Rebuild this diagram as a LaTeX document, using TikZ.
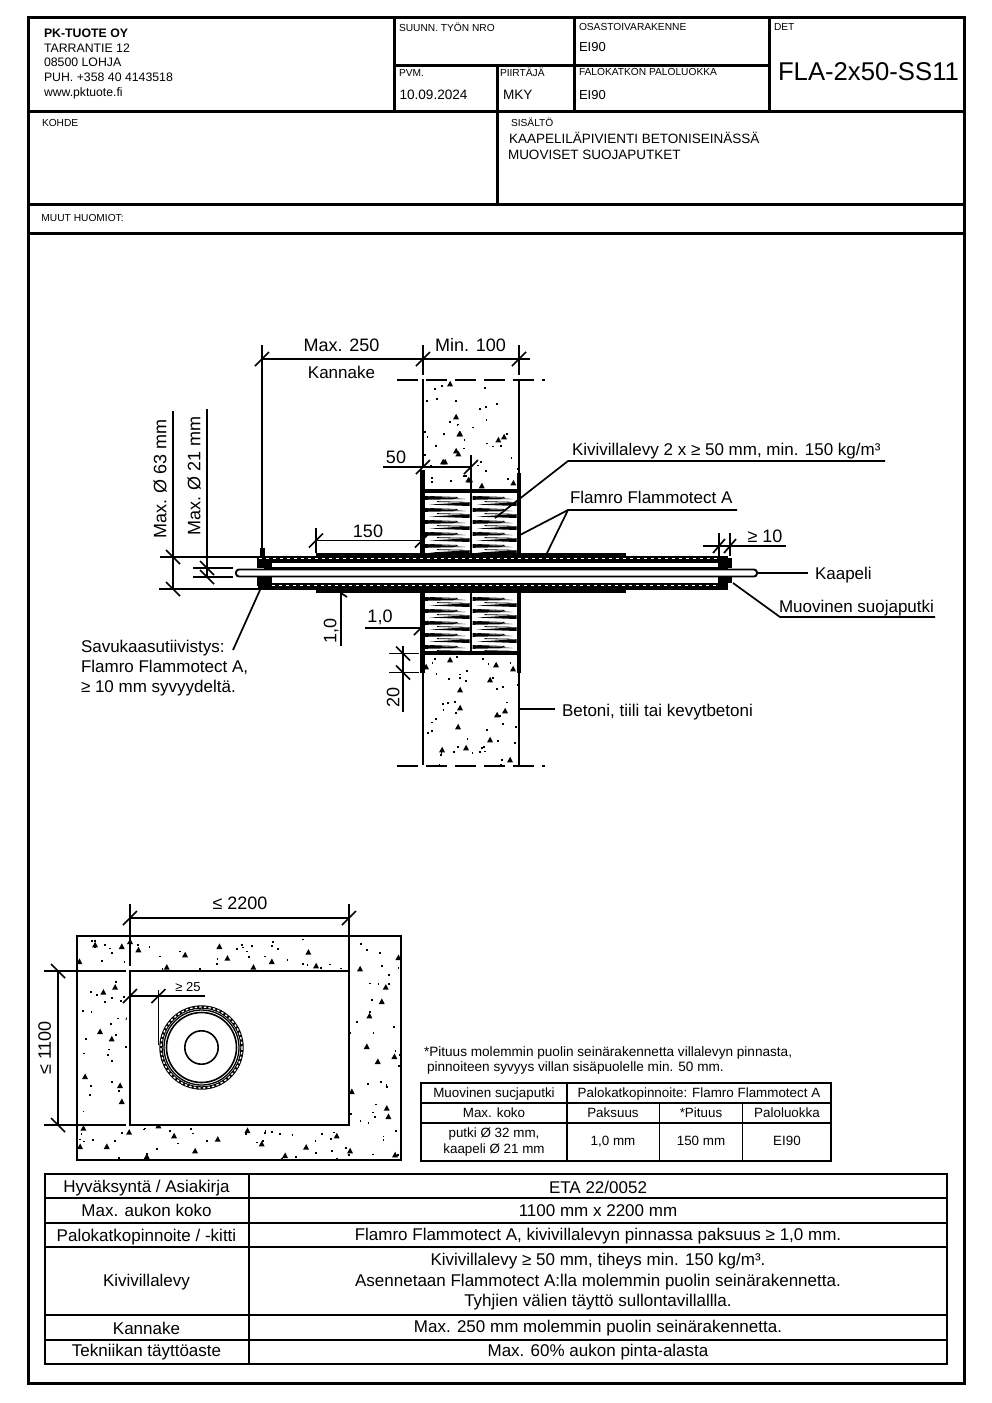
\documentclass[tikz,border=0pt]{standalone}
\usepackage{fontspec}
\setmainfont{Liberation Sans}
\newcounter{tn}
\tikzset{
  txt/.style={inner sep=0pt,outer sep=0pt,text depth=0pt},
  frameline/.style={line width=3pt},
  thinline/.style={line width=2pt},
  dimline/.style={line width=1.7pt},
  cellline/.style={line width=2pt},
  smallcell/.style={line width=1.7pt},
}
\newcommand{\T}[5][anchor=west]{\stepcounter{tn}\node[txt,#1,font=\fontsize{#4}{#4}\selectfont,text height={#4*0.72pt}] (t\arabic{tn}) at (#2,#3) {#5};}
\newcommand{\tf}[2]{\draw[dimline] (#1-7,#2+7) -- (#1+7,#2-7);}
\newcommand{\tb}[2]{\draw[dimline] (#1-7,#2-7) -- (#1+7,#2+7);}
\newcommand{\wool}[4]{\foreach \k in {0,...,#4}{
  \pgfmathsetmacro\yy{#3+12*\k}
  \fill (#1,\yy-2) -- (#1,\yy+1.8) -- (#2-4,\yy+1) -- cycle;
  \fill (#2,\yy+4.2) -- (#2,\yy+8) -- (#1+4,\yy+6.6) -- cycle;
  \draw[line width=.8pt] (#1+5,\yy-1.5) -- (#2-12,\yy-.6);
  \draw[line width=.8pt] (#1+12,\yy+3.6) -- (#2-5,\yy+4.2);
}}
\newcommand{\tri}[2]{\fill (#1-3,#2+2.4) -- (#1+.2,#2-3.2) -- (#1+3,#2+2.4) -- cycle;}
\begin{document}
\begin{tikzpicture}[x=1pt,y=-1pt]
\useasboundingbox (0,0) rectangle (992,1403);
\fill[white] (0,0) rectangle (992,1403);
% ---------- title block ----------
\draw[frameline] (28.5,17) rectangle (964.5,1383.5);
\draw[frameline] (28.5,111) -- (964.5,111);
\draw[frameline] (28.5,204) -- (964.5,204);
\draw[frameline] (28.5,233) -- (964.5,233);
\draw[frameline] (394,17) -- (394,111);
\draw[frameline] (574,17) -- (574,111);
\draw[frameline] (769.5,17) -- (769.5,111);
\draw[frameline] (394,65) -- (769.5,65);
\draw[frameline] (497,65) -- (497,204);
\T{44}{33}{12.3}{\bfseries PK-TUOTE OY}
\T{44}{48}{12.3}{TARRANTIE 12}
\T{44}{62}{12.3}{08500 LOHJA}
\T{44}{77}{12.3}{PUH. +358 40 4143518}
\T{44}{92}{12.2}{www.pktuote.fi}
\T{399}{27.5}{10.2}{SUUNN. TYÖN NRO}
\T{399}{73}{10.2}{PVM.}
\T{399.5}{95}{13.6}{10.09.2024}
\T{500}{72.5}{10.2}{PIIRTÄJÄ}
\T{503}{95}{13.6}{MKY}
\T{579}{26.5}{10.2}{OSASTOIVARAKENNE}
\T{579}{47}{13}{EI90}
\T{579}{72}{10.2}{FALOKATKON PALOLUOKKA}
\T{579}{95}{13}{EI90}
\T{774}{27}{10.2}{DET}
\T{778}{71}{25.7}{FLA-2x50-SS11}
\T{42}{122.5}{10.2}{KOHDE}
\T{511}{122.5}{10.2}{SISÄLTÖ}
\T{509}{139}{13.5}{KAAPELILÄPIVIENTI BETONISEINÄSSÄ}
\T{508}{155}{13.5}{MUOVISET SUOJAPUTKET}
\T{41.5}{218}{10.2}{MUUT HUOMIOT:}
% ---------- section: concrete ----------
\begin{scope}
\clip (423,380) rectangle (519,765);
\pgfmathsetseed{7}
\foreach \i in {1,...,130}{
  \pgfmathsetmacro\xx{424+rnd*94}
  \pgfmathsetmacro\yy{381+rnd*384}
  \fill (\xx,\yy) rectangle ++(1.8,1.8);
}
\foreach \a/\b in {459.3/434,498.3/440,504/437,458.3/454,445/462,468.3/480,481.7/486,513.3/483,
  450/384,456/417,460/434,456/451,443/462,470/480,
  450/660,496/665,513/669,460/690,460/708,497/715,505/711,458/727,426/667,490/680,
  490/740,466/748,510/760,442/750}{\tri{\a}{\b}}
\end{scope}
% wool fields and tube bore
\fill[white] (423,491) rectangle (519,653);
\wool{425}{469.5}{498}{4}
\wool{472.5}{516.5}{498}{4}
\wool{425}{469.5}{599}{4}
\wool{472.5}{516.5}{599}{4}
\draw[line width=1.5pt] (471,455) -- (471,553);
\draw[line width=1.5pt] (471,593) -- (471,653);
\draw[line width=4pt] (423,491) -- (519,491);
\draw[line width=4pt] (423,653) -- (519,653);
% wall lines
\draw[thinline] (422.5,379) -- (422.5,468);
\draw[thinline] (518.5,379) -- (518.5,473);
\draw[line width=4.5pt] (422.5,470) -- (422.5,553);
\draw[line width=4pt] (518.5,473) -- (518.5,553);
\draw[line width=4.5pt] (422.5,593) -- (422.5,673);
\draw[line width=4pt] (518.5,593) -- (518.5,673);
\draw[thinline] (422.5,673) -- (422.5,765);
\draw[thinline] (518.5,673) -- (518.5,765);
\draw[line width=2pt,dash pattern=on 21pt off 8pt] (397,379.5) -- (545,379.5);
\draw[line width=2pt,dash pattern=on 21pt off 8pt] (397,765.5) -- (545,765.5);
% ---------- section: tubes ----------
\fill (258,555.5) rectangle (728,563);
\fill (258,583) rectangle (728,589.5);
\fill (316,553) rectangle (626,563);
\fill (316,583) rectangle (626,593);
\fill (257,558) rectangle (272,568);
\fill (257,577) rectangle (272,586);
\fill (718,558) rectangle (732,568);
\fill (718,577) rectangle (732,583);
\draw[white,line width=1pt,dash pattern=on 3pt off 4pt] (259,558) -- (717,558);
\draw[white,line width=1pt,dash pattern=on 3pt off 4pt] (272,585) -- (717,585);
\draw[line width=1.9pt,rounded corners=3pt] (236,569.5) -- (757,569.5) -- (757,576.5) -- (236,576.5) -- cycle;
\draw[line width=1.6pt] (264,568) -- (728,568);
% ---------- section: dimensions ----------
\coordinate (kaa) at (757.5,573);
\draw[dimline] (262,345) -- (262,549);
\fill (259.5,548) rectangle (264.5,558);
\draw[dimline] (423,345) -- (423,375);
\draw[dimline] (519,345) -- (519,375);
\draw[dimline] (262,359) -- (530,359);
\tf{262}{359}\tf{423}{359}\tf{519}{359}
\T[anchor=center]{341.5}{345.5}{18}{Max. 250}
\T[anchor=center]{341.5}{372.5}{17}{Kannake}
\T[anchor=center]{470.5}{345.5}{18}{Min. 100}
\draw[dimline] (173,411) -- (173,590);
\draw[dimline] (207,409) -- (207,578);
\draw[dimline] (160,557) -- (258,557);
\draw[dimline] (159,589) -- (258,589);
\draw[dimline] (193,568) -- (233,568);
\draw[dimline] (193,577) -- (233,577);
\tb{173}{557}\tb{173}{589}\tb{207}{568}\tb{207}{577}
\T[anchor=center,rotate=90]{160}{479}{18}{Max. Ø 63 mm}
\T[anchor=center,rotate=90]{194}{476}{18}{Max. Ø 21 mm}
\draw[dimline] (383,467) -- (471,467);
\tf{423}{467}\tf{471}{467}
\T[anchor=center]{396}{457.5}{18}{50}
\draw[dimline] (316,528) -- (316,553);
\draw[dimline] (316,540.5) -- (422,540.5);
\tf{316}{540.5}\tf{422}{540.5}
\T[anchor=center]{368}{531.5}{18}{150}
\draw[dimline] (365,628) -- (422,628);
\tf{421}{628}
\T[anchor=center]{380}{616.5}{18}{1,0}
\draw[dimline] (341,593) -- (341,646);
\draw[dimline] (341,593) -- (347,597);
\T[anchor=center,rotate=90]{330}{631}{18}{1,0}
\draw[dimline] (403,646) -- (403,712);
\draw[dimline] (389,653.5) -- (419,653.5);
\draw[dimline] (389,672.5) -- (419,672.5);
\tb{403}{653.5}\tb{403}{672.5}
\T[anchor=center,rotate=90]{393}{697}{18}{20}
\draw[dimline] (703,546) -- (786,546);
\draw[dimline] (719,533) -- (719,556);
\draw[dimline] (730,533) -- (730,556);
\draw[dimline] (713,553) -- (725,539);
\draw[dimline] (724,553) -- (736,539);
\T[anchor=center]{765}{536.5}{18}{≥ 10}
% leaders
\T{572}{449}{17}{Kivivillalevy 2 x ≥ 50 mm, min. 150 kg/m³}
\coordinate (kiv) at (568,461);
\draw[dimline] (495,518) -- (kiv) -- (885,461);
\T{570}{497.5}{17}{Flamro Flammotect A}
\coordinate (fla) at (568,510);
\draw[dimline] (520,535) -- (fla) -- (737,510);
\draw[dimline] (547,553) -- (fla);
\T{815}{573}{17}{Kaapeli}
\draw[dimline] (kaa) -- (808,573);
\T{779}{606.5}{17}{Muovinen suojaputki}
\coordinate (muo) at (780,617);
\draw[dimline] (733,583) -- (muo) -- (935,617);
\T{562}{710.5}{17}{Betoni, tiili tai kevytbetoni}
\draw[dimline] (519,709) -- (555,709);
\T{81}{646}{17}{Savukaasutiivistys:}
\T{81}{666.5}{17}{Flamro Flammotect A,}
\T{81}{686}{17}{≥ 10 mm syvyydeltä.}
\coordinate (sav) at (233,650);
\draw[dimline] (260,590) -- (sav);
% ---------- plan ----------
\begin{scope}
\clip (77,936) rectangle (401,1160);
\pgfmathsetseed{21}
\foreach \i in {1,...,260}{
  \pgfmathsetmacro\xx{78+rnd*322}
  \pgfmathsetmacro\yy{937+rnd*222}
  \fill (\xx,\yy) rectangle ++(1.8,1.8);
}
\foreach \a/\b in {165/165,245/170,270/155,295/180,435/195,538/170,562/205,380/232,640/232,695/215,805/187,828/228,960/237,1075/203,1037/292,1025/335,988/378,980/470,1063/500,1013/515,935/605,1040/655,1045/680,225/292,190/307,180/425,215/447,265/382,135/560,240/587,245/635,130/715,267/727,355/708,402/738,622/722,533/748,665/762,890/738,798/772,930/783,1065/795,735/797,465/783,320/800,200/770,120/770,118/215}{
  \pgfmathsetmacro\px{40+\a/3}
  \pgfmathsetmacro\py{890+\b/3}
  \tri{\px}{\py}
}
\end{scope}
\draw[line width=2pt] (77,936) rectangle (401,1159.5);
\draw[cellline,fill=white] (130,971) rectangle (349,1125);
\fill[white] (127,966) rectangle (129,1127);
\draw[dimline] (130,904) -- (130,966);
\draw[dimline] (349,904) -- (349,971);
\draw[dimline] (130,918) -- (349,918);
\tf{130}{918}\tf{349}{918}
\T[anchor=center]{240}{903.5}{18}{≤ 2200}
\draw[dimline] (44,971) -- (126,971);
\draw[dimline] (44,1125) -- (126,1125);
\draw[dimline] (58,971) -- (58,1125);
\tb{58}{971}\tb{58}{1125}
\T[anchor=center,rotate=90]{44.5}{1048}{18}{≤ 1100}
\draw[dimline] (130,996) -- (205,996);
\tf{130}{996}\tf{158.5}{996}
\draw[dimline] (158.5,990) -- (158.5,1045);
\T[anchor=center]{188}{987}{13}{≥ 25}
\coordinate (cc) at (201.5,1047.5);
\draw[line width=3.4pt] (cc) circle[radius=40.5];
\draw[white,line width=1.3pt,dash pattern=on 2.4pt off 2.2pt] (cc) circle[radius=40.5];
\draw[line width=1.3pt] (cc) circle[radius=37.5];
\draw[line width=1.6pt] (cc) circle[radius=35];
\draw[line width=1.6pt] (cc) circle[radius=16.7];
% ---------- small table ----------
\T{424}{1052}{13.6}{*Pituus molemmin puolin seinärakennetta villalevyn pinnasta,}
\T{427}{1067}{13.6}{pinnoiteen syvyys villan sisäpuolelle min. 50 mm.}
\draw[smallcell] (421,1083) rectangle (831,1161);
\draw[smallcell] (421,1103) -- (831,1103);
\draw[smallcell] (421,1123) -- (831,1123);
\draw[smallcell] (567,1083) -- (567,1161);
\draw[smallcell] (659.5,1103) -- (659.5,1161);
\draw[smallcell] (742.5,1103) -- (742.5,1161);
\T[anchor=center]{494}{1092.5}{13.4}{Muovinen sucjaputki}
\T[anchor=center]{699}{1092.5}{13.4}{Palokatkopinnoite: Flamro Flammotect A}
\T[anchor=center]{494}{1112.5}{13.4}{Max. koko}
\T[anchor=center]{613}{1112.5}{13.4}{Paksuus}
\T[anchor=center]{701}{1112.5}{13.4}{*Pituus}
\T[anchor=center]{787}{1112.5}{13.4}{Paloluokka}
\T[anchor=center]{494}{1133}{13.4}{putki Ø 32 mm,}
\T[anchor=center]{494}{1149}{13.4}{kaapeli Ø 21 mm}
\T[anchor=center]{613}{1141}{13.4}{1,0 mm}
\T[anchor=center]{701}{1141}{13.4}{150 mm}
\T[anchor=center]{787}{1141}{13.4}{EI90}
% ---------- bottom table ----------
\draw[cellline] (45,1174) rectangle (947,1364);
\draw[cellline] (249,1174) -- (249,1364);
\foreach \r in {1198,1222.5,1247,1314.5,1339.5}{\draw[cellline] (45,\r) -- (947,\r);}
\T[anchor=center]{146.5}{1186}{17}{Hyväksyntä / Asiakirja}
\T[anchor=center]{146.5}{1210.5}{17}{Max. aukon koko}
\T[anchor=center]{146.5}{1235}{17}{Palokatkopinnoite / -kitti}
\T[anchor=center]{146.5}{1280.5}{17}{Kivivillalevy}
\T[anchor=center]{146.5}{1328}{17}{Kannake}
\T[anchor=center]{146.5}{1350.5}{17}{Tekniikan täyttöaste}
\T[anchor=center]{598}{1187}{17}{ETA 22/0052}
\T[anchor=center]{598}{1210.5}{17}{1100 mm x 2200 mm}
\T[anchor=center]{598}{1234}{17}{Flamro Flammotect A, kivivillalevyn pinnassa paksuus ≥ 1,0 mm.}
\T[anchor=center]{598}{1259}{17}{Kivivillalevy ≥ 50 mm, tiheys min. 150 kg/m³.}
\T[anchor=center]{598}{1280}{17}{Asennetaan Flammotect A:lla molemmin puolin seinärakennetta.}
\T[anchor=center]{598}{1300}{17}{Tyhjien välien täyttö sullontavillallla.}
\T[anchor=center]{598}{1326.5}{17}{Max. 250 mm molemmin puolin seinärakennetta.}
\T[anchor=center]{598}{1350.5}{17}{Max. 60\% aukon pinta-alasta}
\end{tikzpicture}
\end{document}
